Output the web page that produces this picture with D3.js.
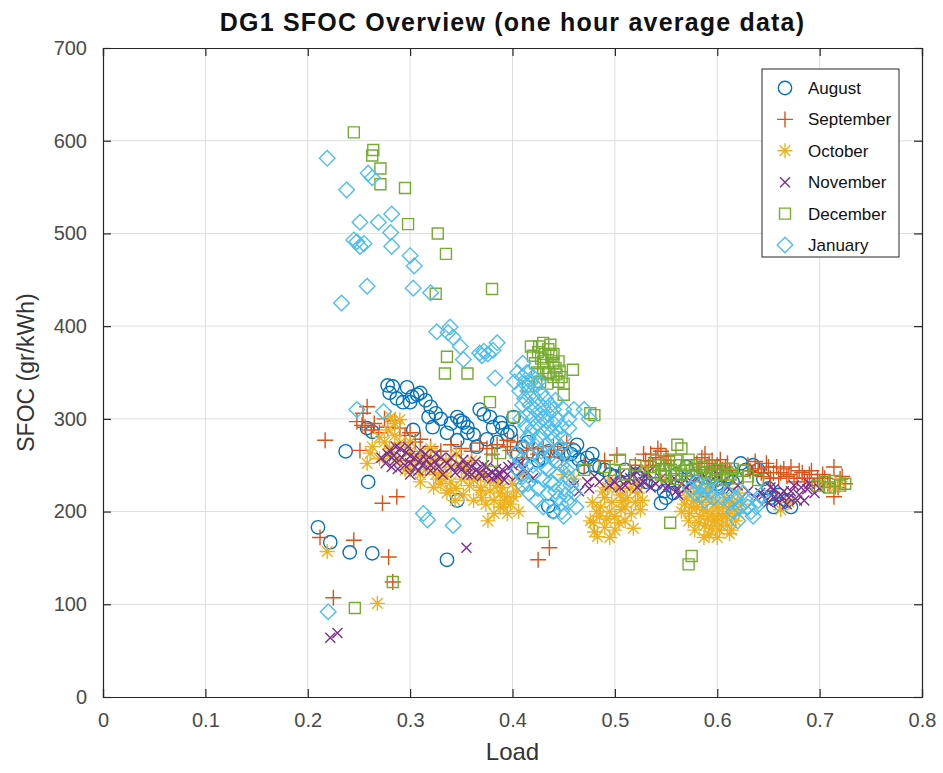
<!DOCTYPE html>
<html>
<head>
<meta charset="utf-8">
<script src="https://cdn.jsdelivr.net/npm/d3@7"></script>
<style>
  body { margin: 0; background: #fff; }
  svg { display: block; }
  text { font-family: "Liberation Sans", Arial, sans-serif; }
</style>
</head>
<body>
<svg id="chart" width="943" height="773"></svg>
<script>
// Axis ticks
const xTicks = [0, 0.1, 0.2, 0.3, 0.4, 0.5, 0.6, 0.7, 0.8];
const yTicks = [0, 100, 200, 300, 400, 500, 600, 700];

// Monthly series: [load, SFOC g/kWh], one-hour averages
const months = ["August", "September", "October", "November", "December", "January"];

const august = [
  [0.210,183],[0.222,167],[0.241,156],[0.263,155],[0.336,148],
  [0.237,265],[0.259,232],[0.258,290],[0.263,286],
  [0.278,336],[0.283,335],[0.280,328],[0.287,322],[0.297,334],[0.302,324],[0.307,326],[0.293,318],
  [0.300,318],[0.310,328],[0.315,320],[0.320,313],[0.325,306],[0.318,302],[0.322,291],[0.330,300],[0.336,285],
  [0.340,295],[0.346,302],[0.349,298],[0.352,296],[0.356,291],[0.346,277],[0.356,285],[0.362,283],
  [0.368,310],[0.372,305],[0.378,302],[0.381,291],[0.388,296],[0.390,290],[0.395,283],[0.401,302],[0.398,286],
  [0.365,270],[0.375,278],[0.385,275],[0.405,262],[0.410,270],[0.303,288],
  [0.346,212],[0.440,200],[0.435,206],[0.425,255],[0.444,266],[0.460,266],[0.463,272],[0.457,262],[0.469,248],[0.473,258],
  [0.480,250],[0.490,245],[0.500,238],[0.520,240],[0.530,232],[0.545,209],[0.550,215],[0.557,220],[0.560,240],[0.570,248],[0.575,238],
  [0.587,223],[0.600,230],[0.610,238],[0.623,252],[0.635,250],[0.640,245],[0.650,225],[0.660,218],[0.655,205],[0.668,212],
  [0.465,256],[0.478,262],[0.485,248],[0.495,240],[0.510,245],[0.525,236],[0.540,230],[0.548,222],[0.565,228],[0.580,232],
  [0.595,238],[0.605,226],[0.615,232],[0.628,245],[0.645,235],[0.652,215],[0.662,208],[0.672,205],
  [0.415,275],[0.420,262],[0.430,258],[0.435,265],[0.450,262]
];

const september = [
  [0.217,277],[0.212,172],[0.245,169],[0.225,107],[0.279,151],[0.283,124],
  [0.258,313],[0.254,306],[0.248,297],[0.253,293],[0.256,291],[0.262,288],[0.251,266],
  [0.273,209],[0.287,216],[0.278,291],[0.285,298],[0.295,282],[0.305,275],
  [0.330,265],[0.350,268],[0.368,274],[0.380,262],[0.395,270],[0.395,277],[0.398,266],[0.414,266],[0.430,270],[0.440,270],[0.444,266],[0.453,274],[0.437,259],
  [0.425,148],[0.436,161],
  [0.470,250],[0.490,255],[0.502,261],[0.520,250],
  [0.530,255],[0.535,262],[0.540,258],[0.545,265],[0.548,252],[0.550,260],[0.537,250],
  [0.580,252],[0.585,258],[0.590,248],[0.595,255],[0.600,250],[0.605,245],[0.610,252],
  [0.630,250],[0.635,240],[0.640,246],[0.645,238],[0.650,248],[0.655,242],[0.660,236],[0.665,246],[0.670,240],[0.675,232],[0.680,244],[0.685,236],[0.690,240],[0.695,228],
  [0.700,232],[0.705,236],[0.710,228],[0.714,248],[0.714,216],[0.720,235],[0.725,230],
  [0.265,295],[0.270,285],[0.275,300],[0.290,290],[0.300,285],[0.310,278],[0.320,270],[0.340,272],[0.360,265],[0.375,268],
  [0.385,272],[0.405,275],[0.420,268],[0.425,262],[0.448,258],[0.410,258],
  [0.528,262],[0.533,248],[0.542,268],[0.552,255],[0.582,245],[0.588,262],[0.592,252],[0.598,246],[0.603,256],[0.608,248],
  [0.612,244],[0.632,244],[0.637,254],[0.643,242],[0.648,252],[0.652,236],[0.658,248],[0.662,242],[0.668,238],[0.672,248],
  [0.678,236],[0.683,242],[0.688,232],[0.692,244],[0.698,236],[0.703,240],[0.708,230],[0.718,226],[0.722,238]
];

const october = [
  [0.219,157],[0.268,101],[0.258,252],[0.261,263],[0.263,270],[0.270,257],[0.290,299],[0.278,288],[0.281,302],[0.285,295],
  [0.290,274],[0.300,265],[0.310,262],[0.317,259],[0.320,250],[0.325,240],[0.330,242],[0.335,255],[0.340,248],[0.345,262],
  [0.323,226],[0.336,220],[0.339,223],[0.350,235],[0.355,245],[0.362,234],[0.369,223],[0.369,226],[0.372,240],[0.378,232],
  [0.385,228],[0.388,220],[0.388,205],[0.391,205],[0.395,198],[0.395,216],[0.401,216],[0.400,230],[0.410,240],[0.360,255],
  [0.270,280],[0.300,245],[0.310,240],[0.280,268],
  [0.275,275],[0.280,260],[0.285,282],[0.290,255],[0.295,245],[0.300,275],[0.305,255],[0.310,232],[0.315,245],[0.320,268],
  [0.325,255],[0.330,230],[0.335,238],[0.340,232],[0.345,225],[0.350,250],[0.352,218],[0.358,228],[0.362,212],[0.366,238],
  [0.370,215],[0.374,208],[0.378,222],[0.382,212],[0.386,236],[0.390,226],[0.392,212],[0.398,208],[0.404,222],[0.406,200],
  [0.382,198],[0.376,190],[0.344,212],[0.328,235],
  [0.476,190],[0.479,188],[0.483,173],[0.486,205],[0.490,215],[0.493,226],[0.495,200],[0.500,195],[0.505,218],[0.508,212],
  [0.510,205],[0.515,225],[0.520,210],[0.525,202],[0.490,183],[0.485,195],[0.500,180],[0.510,190],[0.495,235],[0.520,230],
  [0.478,210],[0.482,200],[0.488,222],[0.492,192],[0.497,210],[0.502,225],[0.504,188],[0.512,215],[0.516,198],[0.518,182],
  [0.522,220],[0.527,212],[0.480,178],[0.495,172],[0.506,202],
  [0.565,200],[0.570,215],[0.572,190],[0.575,205],[0.578,180],[0.580,220],[0.583,195],[0.585,210],[0.588,185],[0.590,200],
  [0.592,175],[0.595,215],[0.597,190],[0.600,205],[0.602,180],[0.605,195],[0.607,215],[0.610,185],[0.612,200],[0.615,210],
  [0.618,190],[0.620,220],[0.590,225],[0.580,205],[0.600,190],[0.595,198],
  [0.568,208],[0.573,198],[0.577,212],[0.582,188],[0.586,202],[0.589,215],[0.591,192],[0.594,182],[0.598,208],[0.601,198],
  [0.604,185],[0.606,205],[0.609,195],[0.611,210],[0.614,180],[0.617,202],[0.621,198],[0.624,208],[0.587,172],[0.600,172],
  [0.612,176],[0.570,222],[0.583,225],
  [0.662,202],[0.670,210],[0.450,240],[0.460,235],[0.550,235],[0.530,245],[0.705,228],[0.715,226],[0.720,232]
];

const november = [
  [0.222,64],[0.229,69],[0.355,161],
  [0.278,262],[0.285,255],[0.290,268],[0.295,250],[0.300,260],[0.305,248],[0.310,255],[0.315,262],[0.298,270],[0.282,248],
  [0.320,250],[0.330,258],[0.340,248],[0.350,245],[0.355,250],[0.360,240],[0.365,245],[0.370,238],[0.375,248],[0.380,242],
  [0.385,238],[0.390,245],[0.395,240],[0.400,250],[0.410,245],
  [0.272,258],[0.276,252],[0.280,266],[0.284,260],[0.288,246],[0.292,258],[0.296,264],[0.300,252],[0.304,258],[0.308,244],
  [0.312,250],[0.316,256],[0.320,244],[0.324,254],[0.328,248],[0.332,240],[0.336,252],[0.340,258],[0.344,242],[0.348,250],
  [0.352,256],[0.356,240],[0.360,248],[0.364,254],[0.368,242],[0.372,250],[0.376,240],[0.380,236],[0.384,246],[0.388,240],
  [0.392,234],[0.396,248],[0.404,238],[0.408,252],[0.415,242],[0.420,236],[0.300,240],[0.286,270],[0.310,266],[0.325,262],
  [0.460,228],[0.465,222],[0.473,232],[0.480,238],
  [0.500,232],[0.505,240],[0.510,228],[0.515,236],[0.520,244],[0.525,230],[0.530,238],[0.535,226],
  [0.550,225],[0.555,232],[0.560,222],[0.565,230],[0.570,226],[0.580,235],[0.600,240],
  [0.475,225],[0.485,232],[0.495,228],[0.505,226],[0.512,234],[0.518,240],[0.522,226],[0.528,232],[0.532,242],[0.540,230],
  [0.545,236],[0.552,228],[0.558,236],[0.562,218],[0.575,232],[0.585,240],[0.590,236],[0.605,232],[0.610,226],[0.620,228],
  [0.630,222],[0.638,214],[0.645,218],[0.650,210],[0.655,224],[0.662,218],[0.668,208],[0.672,222],[0.678,212],[0.682,226],
  [0.695,220],[0.700,225],
  [0.642,220],[0.648,212],[0.652,226],[0.656,216],[0.660,210],[0.665,222],[0.670,215],[0.675,228],[0.680,218],[0.685,212],[0.688,224],[0.690,230]
];

const december = [
  [0.245,609],[0.264,590],[0.263,584],[0.271,570],[0.271,553],[0.295,549],[0.298,510],[0.327,500],[0.335,478],[0.325,435],
  [0.336,367],[0.334,349],[0.356,349],[0.380,440],[0.378,318],[0.401,302],
  [0.246,96],[0.283,124],[0.420,182],[0.430,178],[0.554,188],[0.575,152],[0.572,143],
  [0.430,382],[0.425,372],[0.428,365],[0.432,370],[0.435,375],[0.438,368],[0.440,360],[0.442,355],[0.445,362],[0.436,350],
  [0.440,345],[0.445,340],[0.448,345],[0.430,355],[0.420,368],[0.459,353],[0.450,326],[0.415,335],
  [0.418,378],[0.422,360],[0.426,378],[0.430,362],[0.433,348],[0.437,380],[0.440,370],[0.443,348],[0.446,352],[0.424,350],
  [0.427,340],[0.434,338],[0.450,338],
  [0.476,306],[0.480,304],[0.505,256],[0.561,272],[0.565,268],
  [0.535,248],[0.540,255],[0.545,240],[0.550,250],[0.555,245],[0.560,255],[0.565,240],[0.570,250],[0.575,245],[0.580,238],
  [0.585,248],[0.590,243],[0.595,235],[0.600,245],[0.605,240],[0.610,236],[0.615,246],[0.550,238],[0.560,235],
  [0.538,242],[0.543,250],[0.548,245],[0.553,256],[0.558,240],[0.563,250],[0.568,244],[0.572,256],[0.578,250],[0.583,242],
  [0.588,236],[0.593,250],[0.598,240],[0.603,234],[0.608,246],[0.613,240],[0.620,236],[0.625,244],[0.630,238],[0.640,234],
  [0.520,250],[0.510,240],[0.490,248],[0.470,245],
  [0.698,228],[0.705,232],[0.710,226],[0.715,233],[0.720,228],[0.725,230],[0.500,245],[0.380,255],[0.388,263]
];

const january = [
  [0.219,581],[0.238,547],[0.259,565],[0.263,560],[0.251,512],[0.269,512],[0.282,521],[0.281,501],[0.245,493],[0.248,491],
  [0.251,486],[0.255,489],[0.282,486],[0.300,476],[0.304,465],[0.258,443],[0.233,425],[0.303,441],[0.320,436],
  [0.326,394],[0.337,393],[0.339,399],[0.342,388],[0.349,378],[0.352,364],[0.368,371],[0.372,373],[0.376,370],[0.381,374],
  [0.385,382],[0.383,344],[0.370,368],
  [0.248,310],[0.274,308],[0.220,92],[0.313,198],[0.317,191],[0.342,185],
  [0.405,350],[0.410,345],[0.412,338],[0.415,330],[0.418,340],[0.420,325],[0.422,335],[0.425,318],[0.428,328],[0.430,312],
  [0.432,322],[0.410,315],[0.415,305],[0.420,300],[0.425,295],[0.430,300],[0.435,290],[0.440,295],[0.445,285],[0.450,280],
  [0.455,300],[0.460,310],[0.440,310],[0.435,305],[0.430,285],[0.420,290],[0.415,280],[0.425,280],[0.440,278],[0.448,292],
  [0.470,310],[0.475,300],[0.410,360],
  [0.402,340],[0.407,330],[0.412,322],[0.417,315],[0.422,310],[0.427,305],[0.433,298],[0.438,285],[0.443,300],[0.447,270],
  [0.452,265],[0.408,300],[0.413,292],[0.418,285],[0.423,270],[0.428,265],[0.433,272],[0.438,262],[0.443,255],[0.448,250],
  [0.453,245],[0.458,250],[0.412,270],[0.418,260],[0.408,255],[0.428,255],[0.432,248],[0.437,232],[0.442,222],[0.447,208],
  [0.452,218],[0.457,228],[0.462,205],[0.448,200],[0.424,212],[0.416,220],[0.410,228],[0.403,262],[0.414,350],[0.420,345],
  [0.425,340],[0.437,315],[0.442,320],[0.450,310],[0.455,290],
  [0.405,245],[0.410,238],[0.415,230],[0.420,240],[0.425,225],[0.430,235],[0.435,220],[0.440,230],[0.445,215],[0.450,225],
  [0.455,210],[0.460,220],[0.430,205],[0.440,200],[0.450,195],[0.420,250],[0.435,245],[0.445,240],[0.455,235],
  [0.574,225],[0.580,232],[0.585,218],[0.590,228],[0.596,215],[0.613,210],[0.616,200],[0.620,190],[0.625,220],[0.630,205],
  [0.635,195],[0.640,212],[0.600,225],
  [0.578,220],[0.583,228],[0.588,212],[0.593,222],[0.618,215],[0.622,205],[0.628,212],[0.633,200],[0.638,205],[0.643,218],
  [0.610,220],[0.605,215]
];

const seriesData = [august, september, october, november, december, january];
const colors = ["#0072BD", "#D95319", "#EDB120", "#7E2F8E", "#77AC30", "#4DBEEE"];

// Marker outlines, centred on the origin
const markers = [
  () => d3.symbol(d3.symbolCircle, 140)(),
  () => "M-8,0H8M0,-8V8",
  () => "M-7.5,0H7.5M0,-7.5V7.5M-5.3,-5.3L5.3,5.3M-5.3,5.3L5.3,-5.3",
  () => "M-5,-5L5,5M-5,5L5,-5",
  () => "M-5.5,-5.5H5.5V5.5H-5.5Z",
  () => "M0,-7.8L7.8,0L0,7.8L-7.8,0Z"
];

const svg = d3.select("#chart");
const pLeft = 103, pRight = 922, pTop = 48, pBottom = 697;
const x = d3.scaleLinear().domain([0, 0.8]).range([pLeft, pRight]);
const y = d3.scaleLinear().domain([0, 700]).range([pBottom, pTop]);

// Plot background and grid
svg.append("rect").attr("x", pLeft).attr("y", pTop)
  .attr("width", pRight - pLeft).attr("height", pBottom - pTop).attr("fill", "#fff");

const grid = svg.append("g").attr("stroke", "#dedede").attr("stroke-width", 1);
grid.selectAll("line.vx").data(xTicks.slice(1, -1)).join("line")
  .attr("x1", d => x(d)).attr("x2", d => x(d)).attr("y1", pTop).attr("y2", pBottom);
grid.selectAll("line.hy").data(yTicks.slice(1, -1)).join("line")
  .attr("y1", d => y(d)).attr("y2", d => y(d)).attr("x1", pLeft).attr("x2", pRight);

// Data markers
seriesData.forEach((data, i) => {
  svg.append("g")
    .attr("fill", "none").attr("stroke", colors[i]).attr("stroke-width", 1.4)
    .selectAll("path").data(data).join("path")
    .attr("d", markers[i]())
    .attr("transform", d => `translate(${x(d[0])},${y(d[1])})`);
});

// Axes (box with inward ticks on all sides)
const axisColor = "#262626";
const fmtX = d => d === 0 ? "0" : d3.format(".1f")(d);
const axB = d3.axisBottom(x).tickValues(xTicks).tickSize(-8).tickPadding(16).tickFormat(fmtX);
const axT = d3.axisTop(x).tickValues(xTicks).tickSize(-8).tickFormat("");
const axL = d3.axisLeft(y).tickValues(yTicks).tickSize(-8).tickPadding(16);
const axR = d3.axisRight(y).tickValues(yTicks).tickSize(-8).tickFormat("");

function styleAxis(g) {
  g.selectAll(".domain").attr("stroke", axisColor).attr("stroke-width", 1.2);
  g.selectAll(".tick line").attr("stroke", axisColor).attr("stroke-width", 1.2);
  g.selectAll(".tick text").attr("fill", "#4a4a4a").attr("font-size", 20)
    .attr("font-family", "'Liberation Sans', Arial, sans-serif");
}
svg.append("g").attr("transform", `translate(0,${pBottom})`).call(axB).call(styleAxis);
svg.append("g").attr("transform", `translate(0,${pTop})`).call(axT).call(styleAxis);
svg.append("g").attr("transform", `translate(${pLeft},0)`).call(axL).call(styleAxis);
svg.append("g").attr("transform", `translate(${pRight},0)`).call(axR).call(styleAxis);

// Titles
svg.append("text").attr("x", (pLeft + pRight) / 2).attr("y", 31)
  .attr("text-anchor", "middle").attr("font-size", 25).attr("font-weight", "bold")
  .attr("letter-spacing", 1.2)
  .attr("fill", "#111").text("DG1 SFOC Overview (one hour average data)");
svg.append("text").attr("x", (pLeft + pRight) / 2).attr("y", 760)
  .attr("text-anchor", "middle").attr("font-size", 24).attr("fill", "#333").text("Load");
svg.append("text").attr("transform", `translate(34,${(pTop + pBottom) / 2}) rotate(-90)`)
  .attr("text-anchor", "middle").attr("font-size", 23).attr("fill", "#333").text("SFOC (gr/kWh)");

// Legend
const lg = svg.append("g");
lg.append("rect").attr("x", 762).attr("y", 69).attr("width", 137).attr("height", 188)
  .attr("fill", "#fff").attr("stroke", axisColor).attr("stroke-width", 1);
months.forEach((m, i) => {
  const ly = 88 + i * 31.4;
  lg.append("path").attr("d", markers[i]())
    .attr("transform", `translate(785,${ly})`)
    .attr("fill", "none").attr("stroke", colors[i]).attr("stroke-width", 1.4);
  lg.append("text").attr("x", 808).attr("y", ly + 6)
    .attr("font-size", 17).attr("fill", "#111").text(m);
});
</script>
</body>
</html>
